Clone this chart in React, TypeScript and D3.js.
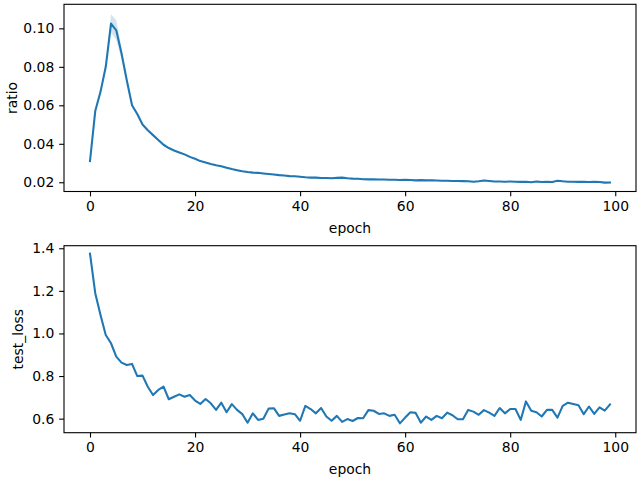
import { useEffect, useRef } from "react"
import * as d3 from "d3"

// per-epoch values
const ratio = [
  0.031, 0.057, 0.067, 0.08, 0.1025, 0.099, 0.087, 0.073, 0.06, 0.0555,
  0.05, 0.047, 0.0445, 0.042, 0.0395, 0.0378, 0.0365, 0.0355, 0.0345, 0.0332,
  0.0322, 0.031, 0.0303, 0.0295, 0.0288, 0.0283, 0.0276, 0.0269, 0.0263, 0.0257,
  0.0253, 0.025, 0.0249, 0.0246, 0.0243, 0.024, 0.0237, 0.0235, 0.0232, 0.0231,
  0.0229, 0.0226, 0.0224, 0.0224, 0.0222, 0.0222, 0.0221, 0.0223, 0.0224, 0.0221,
  0.0219, 0.0218, 0.0216, 0.0215, 0.0215, 0.0214, 0.0214, 0.0213, 0.0213, 0.0212,
  0.0213, 0.0212, 0.021, 0.0211, 0.021, 0.021, 0.0209, 0.0208, 0.0208, 0.0207,
  0.0207, 0.0206, 0.0205, 0.0203, 0.0205, 0.0209, 0.0207, 0.0204, 0.0204, 0.0203,
  0.0204, 0.0203, 0.0202, 0.0203, 0.02, 0.0204, 0.0201, 0.0202, 0.0201, 0.0208,
  0.0205, 0.0203, 0.0203, 0.0202, 0.0202, 0.0201, 0.0203, 0.0201, 0.0198, 0.0199,
]

// half-width of the confidence band around ratio (only wide near the peak)
const ratioCi = [
  0.0004, 0.0006, 0.001, 0.0015, 0.0048, 0.0052, 0.003, 0.0015, 0.001, 0.0008,
  0.0006, 0.0005, 0.0005, 0.0005, 0.0005, 0.0004, 0.0004, 0.0004, 0.0004, 0.0004,
  ...Array(80).fill(0.0003),
]

const testLoss = [
  1.375, 1.189, 1.087, 0.993, 0.954, 0.891, 0.863, 0.852, 0.857, 0.8,
  0.802, 0.75, 0.711, 0.735, 0.75, 0.691, 0.703, 0.714, 0.703, 0.711,
  0.685, 0.669, 0.692, 0.672, 0.641, 0.675, 0.63, 0.668, 0.641, 0.621,
  0.581, 0.625, 0.594, 0.6, 0.647, 0.649, 0.613, 0.619, 0.625, 0.621,
  0.59, 0.66, 0.645, 0.625, 0.65, 0.61, 0.59, 0.613, 0.585, 0.598,
  0.589, 0.603, 0.602, 0.64, 0.637, 0.622, 0.625, 0.613, 0.618, 0.578,
  0.605, 0.63, 0.627, 0.581, 0.61, 0.594, 0.613, 0.602, 0.628, 0.616,
  0.597, 0.597, 0.641, 0.633, 0.618, 0.64, 0.628, 0.613, 0.65, 0.625,
  0.645, 0.645, 0.594, 0.681, 0.637, 0.63, 0.61, 0.641, 0.641, 0.605,
  0.66, 0.675, 0.669, 0.663, 0.621, 0.657, 0.622, 0.653, 0.638, 0.667,
]

const xTicks = [0, 20, 40, 60, 80, 100]
const ratioTicks = [0.02, 0.04, 0.06, 0.08, 0.1]
const lossTicks = [0.6, 0.8, 1.0, 1.2, 1.4]

const BLUE = "#1f77b4"
const FONT = "DejaVu Sans, sans-serif"
const FS = 13.9
const TICK = 4.86

export default function App() {
  const ref = useRef<SVGSVGElement>(null)

  useEffect(() => {
    if (!ref.current) return
    const svg = d3.select(ref.current)
    svg.selectAll("*").remove()

    svg.append("rect").attr("width", 640).attr("height", 480).attr("fill", "white")

    const epochs = d3.range(ratio.length)
    const x = d3.scaleLinear().domain([-4.95, 103.95]).range([64, 636])

    const panels = [
      {
        values: ratio,
        ci: ratioCi,
        domain: [0.0152, 0.1125],
        range: [191.5, 4.3],
        ticks: ratioTicks,
        fmt: d3.format(".2f"),
        label: "ratio",
        labelX: 17,
      },
      {
        values: testLoss,
        ci: null as number[] | null,
        domain: [0.534, 1.412],
        range: [432.7, 245.7],
        ticks: lossTicks,
        fmt: d3.format(".1f"),
        label: "test_loss",
        labelX: 23,
      },
    ]

    panels.forEach((p) => {
      const y = d3.scaleLinear().domain(p.domain).range(p.range)
      const [bottom, top] = p.range
      const g = svg.append("g")

      if (p.ci) {
        const ci = p.ci
        const area = d3
          .area<number>()
          .x((i) => x(i))
          .y0((i) => y(p.values[i] - ci[i]))
          .y1((i) => y(p.values[i] + ci[i]))
        g.append("path").attr("d", area(epochs)).attr("fill", BLUE).attr("fill-opacity", 0.2)
      }

      const line = d3
        .line<number>()
        .x((i) => x(i))
        .y((i) => y(p.values[i]))
      g.append("path")
        .attr("d", line(epochs))
        .attr("fill", "none")
        .attr("stroke", BLUE)
        .attr("stroke-width", 2.08)
        .attr("stroke-linejoin", "round")
        .attr("stroke-linecap", "square")

      const xa = g
        .append("g")
        .attr("transform", `translate(0,${bottom})`)
        .call(d3.axisBottom(x).tickValues(xTicks).tickFormat(d3.format("d")).tickSize(TICK).tickPadding(TICK).tickSizeOuter(0))
      const ya = g
        .append("g")
        .attr("transform", `translate(64,0)`)
        .call(d3.axisLeft(y).tickValues(p.ticks).tickFormat(p.fmt as any).tickSize(TICK).tickPadding(TICK).tickSizeOuter(0))

      ;[xa, ya].forEach((a) => {
        a.select(".domain").remove()
        a.selectAll("line").attr("stroke", "black").attr("stroke-width", 1.1)
        a.selectAll("text").attr("fill", "black").attr("font-family", FONT).attr("font-size", FS)
      })

      // spines
      g.append("rect")
        .attr("x", 64)
        .attr("y", top)
        .attr("width", 636 - 64)
        .attr("height", bottom - top)
        .attr("fill", "none")
        .attr("stroke", "black")
        .attr("stroke-width", 1.1)

      g.append("text")
        .attr("x", (64 + 636) / 2)
        .attr("y", bottom + 41)
        .attr("text-anchor", "middle")
        .attr("font-family", FONT)
        .attr("font-size", FS)
        .text("epoch")

      g.append("text")
        .attr("transform", `translate(${p.labelX},${(top + bottom) / 2}) rotate(-90)`)
        .attr("text-anchor", "middle")
        .attr("font-family", FONT)
        .attr("font-size", FS)
        .text(p.label)
    })
  }, [])

  return (
    <svg
      ref={ref}
      width={640}
      height={480}
      style={{ position: "absolute", left: 0, top: 0, display: "block" }}
    />
  )
}
